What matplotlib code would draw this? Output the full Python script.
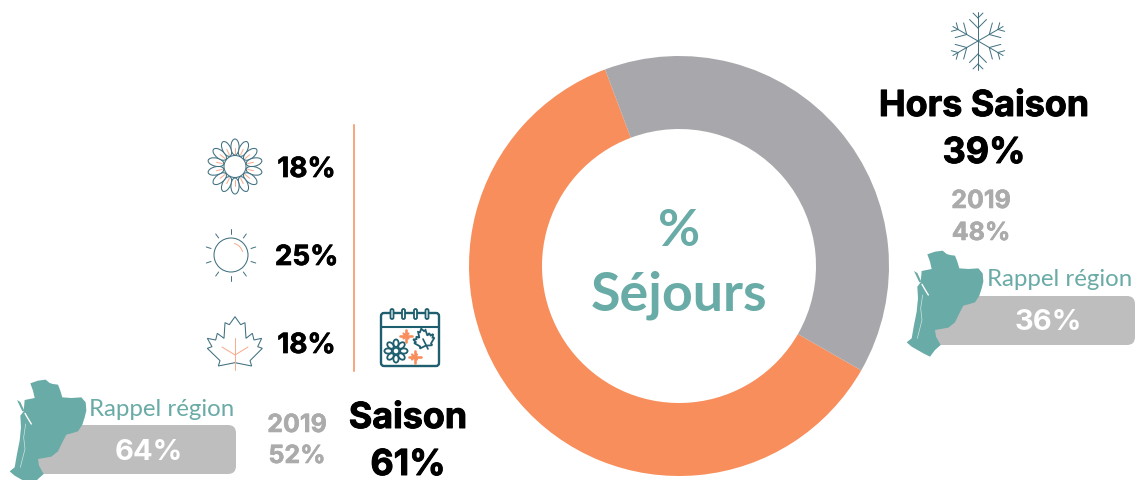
import numpy as np
import matplotlib
matplotlib.use("Agg")
import matplotlib.pyplot as plt
import matplotlib.patheffects as pe
from matplotlib.patches import Circle, Ellipse, FancyBboxPatch, Polygon, Arc

# --- data ---
segments = ["Saison", "Hors Saison"]
shares = [61, 39]
segment_colors = ["#F78E5B", "#A8A7AB"]
seasons = ["18%", "25%", "18%"]
saison_label, saison_value = "Saison", "61%"
hors_label, hors_value = "Hors Saison", "39%"
prior_year = "2019"
saison_2019, hors_2019 = "52%", "48%"
region_label = "Rappel région"
region_saison, region_hors = "64%", "36%"
center_lines = ["%", "Séjours"]

W, H = 1137, 480
TEAL, DARK, SALMON = "#69ABA6", "#3F7080", "#F8A98A"
CAL = "#1F5E6E"
ORANGE, BAR, GREY = "#F78E5B", "#BEBEBE", "#ABABAB"
HEAD = "Inter"

fig = plt.figure(figsize=(W / 100, H / 100), dpi=100, facecolor="white")
ax = fig.add_axes([0, 0, 1, 1])
ax.set_xlim(0, W)
ax.set_ylim(H, 0)
ax.axis("off")

# donut
cx, cy, R = 679, 266, 210
pie_ax = fig.add_axes([(cx - R) / W, 1 - (cy + R) / H, 2 * R / W, 2 * R / H])
pie_ax.pie(shares, colors=segment_colors, startangle=90 + 20.6, counterclock=True,
           radius=1, wedgeprops=dict(width=73 / R, linewidth=0))
pie_ax.set_xlim(-1, 1)
pie_ax.set_ylim(-1, 1)
pie_ax.set_aspect("equal")


def label(x, y, s, size, color="black", weight="bold", family=HEAD, stroke=0.0):
    t = ax.text(x, y, s, fontsize=size, color=color, weight=weight, family=family,
                ha="center", va="center_baseline", zorder=6)
    if stroke:
        t.set_path_effects([pe.withStroke(linewidth=stroke, foreground=color)])


def poly_line(pts, color=DARK, lw=0.7, z=4):
    pts = np.array(pts, float)
    ax.plot(pts[:, 0], pts[:, 1], color=color, lw=lw, solid_capstyle="round",
            solid_joinstyle="round", zorder=z)


# region map, traced once and placed twice
ORIGIN = np.array([900, 245])
map_outline = np.array([
    (82, 28), (105, 20), (128, 17), (140, 27), (150, 30), (165, 32), (172, 50), (178, 70),
    (205, 72), (235, 70), (248, 85), (250, 110), (245, 130), (238, 152), (225, 172),
    (205, 178), (190, 182), (178, 205), (165, 232), (145, 248), (105, 255), (108, 275),
    (122, 300), (105, 315), (90, 335), (70, 325), (35, 305), (20, 292), (35, 280),
    (42, 240), (50, 200), (54, 160), (52, 125), (62, 112), (65, 78), (95, 72), (90, 50)], float) / 3 + ORIGIN
map_sliver = np.array([(42, 78), (52, 84), (64, 110), (58, 112)], float) / 3 + ORIGIN
map_river = np.array([(66, 118), (74, 132), (85, 150)], float) / 3 + ORIGIN
map_coast = np.array([(68, 150), (62, 190), (66, 225), (52, 280)], float) / 3 + ORIGIN


def region(dx, dy, bar_x0, bar_x1, bar_y0, bar_y1, value, label_x, label_y, value_x, value_y):
    off = np.array([dx, dy])
    ax.add_patch(FancyBboxPatch((bar_x0, bar_y0), bar_x1 - bar_x0, bar_y1 - bar_y0,
                                boxstyle="round,pad=0,rounding_size=8", fc=BAR, ec="none", zorder=2))
    ax.add_patch(Polygon(map_outline + off, closed=True, fc=TEAL, ec="none", zorder=3))
    ax.add_patch(Polygon(map_sliver + off, closed=True, fc=TEAL, ec="none", zorder=3))
    poly_line(map_river + off, "white", 1.0)
    poly_line(map_coast + off, "#CFE5E2", 0.5)
    label(label_x, label_y, region_label, 17.3, TEAL, "normal", "Lato")
    label(value_x, value_y, value, 21, "white")


region(-897, 129, 30, 236, 425, 474, region_saison, 162, 407, 149, 450)
region(0, 0, 930, 1135, 296, 345, region_hors, 1060, 278, 1048, 320)

# texts
label(cx, 227, center_lines[0], 37, TEAL, "bold", "Lato")
label(cx, 291, center_lines[1], 38.7, TEAL, "bold", "Lato")
for y, s in zip([167, 255, 343], seasons):
    label(306.5, y, s, 20, stroke=0.5)
label(408, 415, saison_label, 25.8, stroke=0.7)
label(408, 462, saison_value, 25.8, stroke=0.7)
label(984, 103, hors_label, 25.8, stroke=0.7)
label(984, 150, hors_value, 25.8, stroke=0.7)
label(981, 199, prior_year, 18, GREY, stroke=0.4)
label(981, 231, hors_2019, 18, GREY, stroke=0.4)
label(297, 423, prior_year, 18, GREY, stroke=0.4)
label(297, 454, saison_2019, 18, GREY, stroke=0.4)

# orange separator
ax.plot([354, 354], [125, 371], color=ORANGE, lw=1.1, zorder=2)

# flower icon
fx, fy = 235, 166.5
for a in np.arange(0, 360, 360 / 14):
    t = np.deg2rad(a - 90)
    ax.add_patch(Ellipse((fx + 19.5 * np.cos(t), fy + 19.5 * np.sin(t)), 16, 8.2, angle=a - 90,
                         fc="white", ec=DARK, lw=0.75, zorder=3))
    poly_line([(fx + 13 * np.cos(t), fy + 13 * np.sin(t)),
               (fx + 19 * np.cos(t), fy + 19 * np.sin(t))], SALMON, 0.7)
ax.add_patch(Circle((fx, fy), 11, fc="white", ec=DARK, lw=0.75, zorder=5))

# sun icon
sx, sy = 231, 255
ax.add_patch(Circle((sx, sy), 17, fc="white", ec=DARK, lw=0.75, zorder=3))
for a in np.arange(0, 360, 36):
    t = np.deg2rad(a + 90)
    poly_line([(sx + 21 * np.cos(t), sy + 21 * np.sin(t)),
               (sx + 26 * np.cos(t), sy + 26 * np.sin(t))])
ax.add_patch(Arc((sx, sy), 24, 24, theta1=-75, theta2=-15, ec=SALMON, lw=0.7, zorder=4))

# maple leaf icon
leaf = np.array([(705, 590), (722, 614), (735, 608), (738, 655), (757, 640), (762, 660), (785, 655),
                 (773, 680), (787, 685), (750, 722), (755, 738), (705, 728), (655, 738), (660, 722),
                 (622, 685), (636, 680), (622, 655), (647, 660), (652, 640), (672, 655), (675, 608),
                 (688, 614)], float) / 3 + np.array([0, 120])
ax.add_patch(Polygon(leaf, closed=True, fc="white", ec=DARK, lw=0.75, zorder=3))
poly_line([(235, 338), (235, 370)], SALMON, 0.7)
poly_line([(222, 347), (235, 355), (248, 347)], SALMON, 0.7)

# calendar icon
ax.add_patch(FancyBboxPatch((381, 313), 58, 53, boxstyle="round,pad=0,rounding_size=3",
                            fc="white", ec=CAL, lw=1.7, zorder=3))
poly_line([(381, 327), (439, 327)], CAL, 1.5)
for x in [392, 403.5, 415.5, 427]:
    ax.add_patch(FancyBboxPatch((x - 1.5, 309), 3, 10, boxstyle="round,pad=0,rounding_size=1.5",
                                fc="white", ec=CAL, lw=1.3, zorder=4))
for a in np.arange(0, 360, 45):
    t = np.deg2rad(a)
    ax.add_patch(Ellipse((396 + 7.8 * np.cos(t), 351 + 7.8 * np.sin(t)), 7.5, 5.2, angle=a,
                         fc="white", ec=CAL, lw=1.3, zorder=4))
ax.add_patch(Circle((396, 351), 3.2, fc="white", ec=CAL, lw=1.3, zorder=5))
tilt = np.deg2rad(-15)
rot = np.array([[np.cos(tilt), -np.sin(tilt)], [np.sin(tilt), np.cos(tilt)]])
small_leaf = (leaf - np.array([235, 350])) @ rot.T * 0.38 + np.array([424.5, 341])
ax.add_patch(Polygon(small_leaf, closed=True, fc="white", ec=CAL, lw=1.3, zorder=4))
poly_line([(423, 339), (428, 349)], CAL, 1.2, 5)
for x, y in [(406, 336), (414.5, 357)]:
    for a, r, w in [(0, 6, 1.9), (90, 6, 1.9), (45, 3.5, 1.6), (135, 3.5, 1.6)]:
        t = np.deg2rad(a)
        poly_line([(x - r * np.cos(t), y - r * np.sin(t)),
                   (x + r * np.cos(t), y + r * np.sin(t))], ORANGE, w)

# snowflake icon
nx, ny = 978, 41
for a in np.arange(0, 360, 60):
    t = np.deg2rad(a - 90)
    u = np.array([np.cos(t), np.sin(t)])
    c = np.array([nx, ny])
    poly_line([c, c + 29 * u], DARK, 0.7)
    for r, b in [(13, 12), (23, 7)]:
        for s in (-1, 1):
            q = t + s * np.deg2rad(45)
            v = np.array([np.cos(q), np.sin(q)])
            poly_line([c + r * u, c + r * u + b * v], DARK, 0.7)

fig.savefig("out.png", dpi=100, facecolor="white")
